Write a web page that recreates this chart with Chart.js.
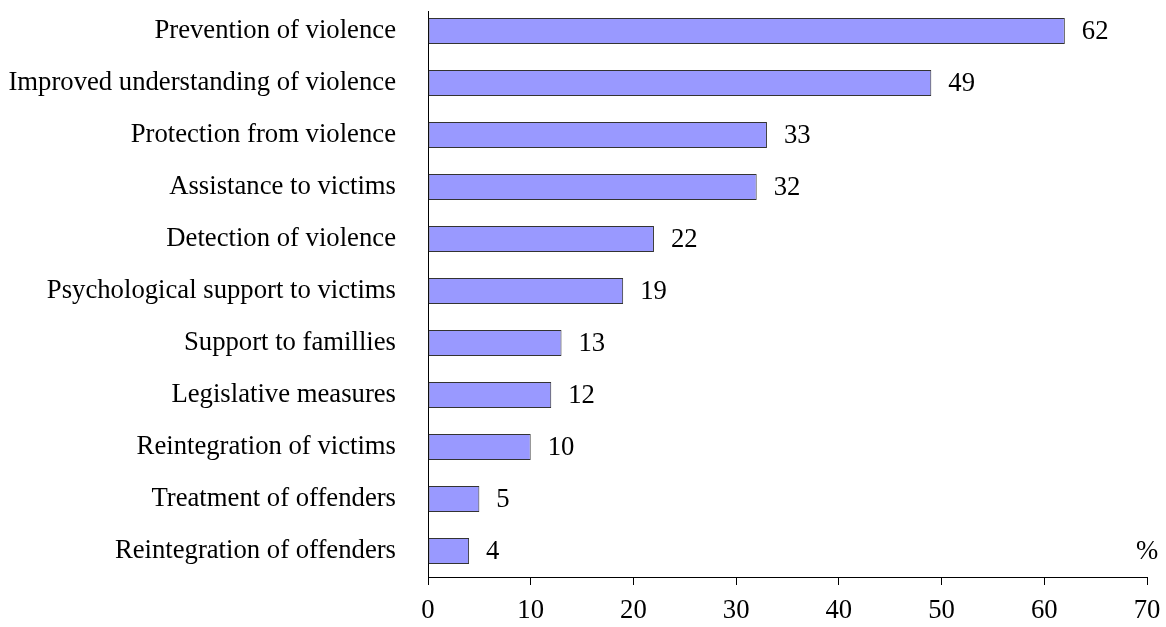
<!DOCTYPE html>
<html>
<head>
<meta charset="utf-8">
<script src="https://cdn.jsdelivr.net/npm/chart.js@4/dist/chart.umd.min.js"></script>
<style>
  html, body { margin: 0; padding: 0; background: #fff; }
  #wrap { width: 1166px; height: 627px; position: relative; }
</style>
</head>
<body>
<div id="wrap"><canvas id="c" width="1166" height="627"></canvas></div>
<script>
const categories = [
  "Prevention of violence",
  "Improved understanding of violence",
  "Protection from violence",
  "Assistance to victims",
  "Detection of violence",
  "Psychological support to victims",
  "Support to famillies",
  "Legislative measures",
  "Reintegration of victims",
  "Treatment of offenders",
  "Reintegration of offenders"
];
const values = [62, 49, 33, 32, 22, 19, 13, 12, 10, 5, 4];
const xTicks = [0, 10, 20, 30, 40, 50, 60, 70];
const unitLabel = "%";

const FONT = "'Liberation Serif', 'Times New Roman', serif";
const FSIZE = 26.7;

const valueLabels = {
  id: 'valueLabels',
  beforeDatasetsDraw(chart) {
    // y-axis line (starts slightly below the plot top, as in the original)
    const ys = chart.scales.y;
    const ctx = chart.ctx;
    ctx.save();
    ctx.strokeStyle = '#000';
    ctx.lineWidth = 1;
    ctx.beginPath();
    const x = Math.round(ys.right) + 0.5;
    ctx.moveTo(x, ys.top + 6);
    ctx.lineTo(x, ys.bottom);
    ctx.stroke();
    ctx.restore();
  },
  afterDatasetsDraw(chart) {
    const ctx = chart.ctx;
    const meta = chart.getDatasetMeta(0);
    ctx.save();
    ctx.font = FSIZE + "px " + FONT;
    ctx.fillStyle = "#000";
    ctx.textAlign = "left";
    ctx.textBaseline = "middle";
    meta.data.forEach((bar, i) => {
      ctx.fillText(String(values[i]), bar.x + 17, bar.y + 1);
    });
    const xs = chart.scales.x;
    ctx.textAlign = "center";
    ctx.fillText(unitLabel, xs.getPixelForValue(xTicks[xTicks.length - 1]), chart.chartArea.bottom - 25);
    ctx.restore();
  }
};

new Chart(document.getElementById('c'), {
  type: 'bar',
  data: {
    labels: categories,
    datasets: [{
      data: values,
      backgroundColor: '#9999FF',
      borderColor: '#333333',
      borderWidth: 1,
      borderSkipped: false,
      barPercentage: 0.5,
      categoryPercentage: 1.0
    }]
  },
  options: {
    indexAxis: 'y',
    responsive: false,
    animation: false,
    devicePixelRatio: 1,
    layout: { padding: { top: 5, right: 19, left: 0, bottom: 0 } },
    plugins: { legend: { display: false }, tooltip: { enabled: false } },
    scales: {
      x: {
        min: 0, max: 70,
        afterBuildTicks(scale) { scale.ticks = xTicks.map(v => ({ value: v })); },
        afterFit(scale) { scale.height = 50; scale.paddingLeft = 0; scale.paddingRight = 0; },
        grid: { display: true, drawOnChartArea: false, drawTicks: true, tickLength: 8, color: '#000', lineWidth: 1 },
        border: { display: true, color: '#000', width: 1 },
        ticks: { color: '#000', font: { family: FONT, size: FSIZE }, padding: 10, maxRotation: 0 }
      },
      y: {
        afterFit(scale) { scale.width = 428; scale.paddingTop = 0; scale.paddingBottom = 0; },
        grid: { display: false, drawTicks: false },
        border: { display: false },
        ticks: { color: '#000', font: { family: FONT, size: FSIZE }, padding: 32, autoSkip: false }
      }
    }
  },
  plugins: [valueLabels]
});
</script>
</body>
</html>
